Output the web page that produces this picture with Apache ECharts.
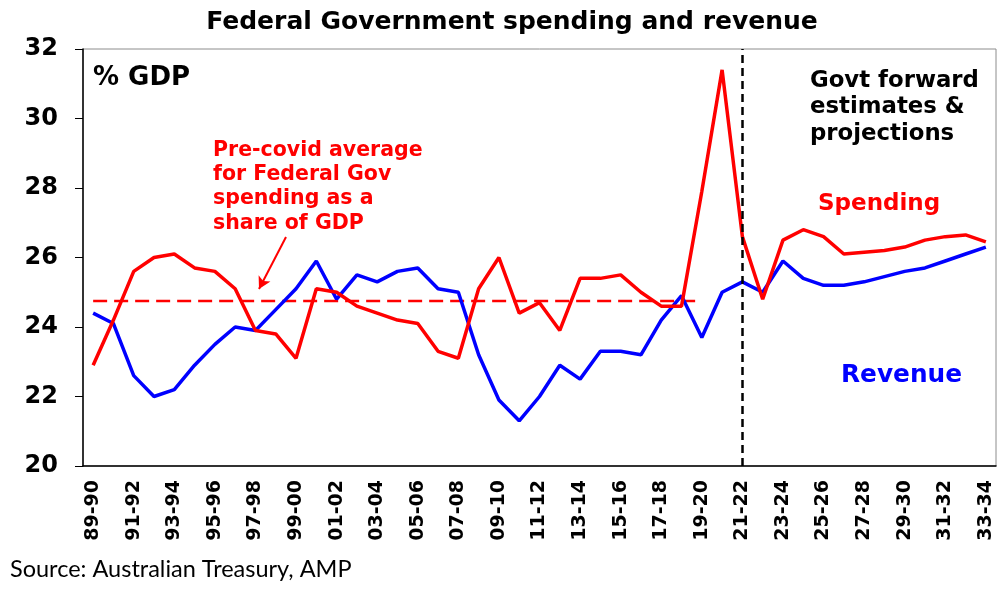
<!DOCTYPE html>
<html>
<head>
<meta charset="utf-8">
<script src="https://cdn.jsdelivr.net/npm/echarts@6/dist/echarts.min.js"></script>
<style>
html,body{margin:0;padding:0;background:#fff;}
#chart{width:1001px;height:593px;}
</style>
</head>
<body>
<div id="chart"></div>
<script>
var categories = ['89-90','90-91','91-92','92-93','93-94','94-95','95-96','96-97','97-98','98-99',
  '99-00','00-01','01-02','02-03','03-04','04-05','05-06','06-07','07-08','08-09',
  '09-10','10-11','11-12','12-13','13-14','14-15','15-16','16-17','17-18','18-19',
  '19-20','20-21','21-22','22-23','23-24','24-25','25-26','26-27','27-28','28-29',
  '29-30','30-31','31-32','32-33','33-34'];
var spending = [22.9,24.2,25.6,26.0,26.1,25.7,25.6,25.1,23.9,23.8,
  23.1,25.1,25.0,24.6,24.4,24.2,24.1,23.3,23.1,25.1,
  26.0,24.4,24.7,23.9,25.4,25.4,25.5,25.0,24.6,24.6,
  27.9,31.4,26.6,24.8,26.5,26.8,26.6,26.1,26.15,26.2,
  26.3,26.5,26.6,26.65,26.45];
var revenue = [24.4,24.1,22.6,22.0,22.2,22.9,23.5,24.0,23.9,24.5,
  25.1,25.9,24.8,25.5,25.3,25.6,25.7,25.1,25.0,23.2,
  21.9,21.3,22.0,22.9,22.5,23.3,23.3,23.2,24.2,24.9,
  23.7,25.0,25.3,25.0,25.9,25.4,25.2,25.2,25.3,25.45,
  25.6,25.7,25.9,26.1,26.3];
var preCovidAverage = 24.75;
var averageEndIndex = 30;
var forecastStart = '21-22';
var yTicks = [20,22,24,26,28,30,32];

var avgData = categories.map(function(c,i){ return i <= averageEndIndex ? preCovidAverage : null; });

var FONT = '"DejaVu Sans", Verdana, sans-serif';
var chart = echarts.init(document.getElementById('chart'));
chart.setOption({
  animation: false,
  backgroundColor: '#fff',
  title: {
    text: 'Federal Government spending and revenue',
    left: 507, top: 5, textAlign: 'center',
    textStyle: {fontFamily: FONT, fontWeight: 'bold', fontSize: 25, color: '#000'}
  },
  grid: {left: 83, right: 5, top: 49, bottom: 127, show: true, borderColor: '#8c8c8c', borderWidth: 1},
  xAxis: {
    type: 'category', data: categories, boundaryGap: true,
    axisLine: {lineStyle: {color: '#000', width: 1.5}},
    axisTick: {interval: 0, length: 6, lineStyle: {color: '#000', width: 1}},
    axisLabel: {interval: 1, rotate: 90, margin: 14, fontFamily: FONT, fontWeight: 'bold', fontSize: 19, color: '#000'}
  },
  yAxis: {
    type: 'value', min: yTicks[0], max: yTicks[yTicks.length-1], interval: 2,
    axisLine: {show: true, lineStyle: {color: '#000', width: 1.5}},
    axisTick: {show: true, length: 8, lineStyle: {color: '#000'}},
    splitLine: {show: false},
    axisLabel: {margin: 25, fontFamily: FONT, fontWeight: 'bold', fontSize: 24, color: '#000'}
  },
  series: [
    {
      name: 'Average', type: 'line', data: avgData, symbol: 'none', z: 1,
      lineStyle: {color: '#ff0000', width: 2.5, type: [14, 7]}
    },
    {
      name: 'Revenue', type: 'line', data: revenue, symbol: 'none', z: 2,
      lineStyle: {color: '#0000ff', width: 3.5}
    },
    {
      name: 'Spending', type: 'line', data: spending, symbol: 'none', z: 3,
      lineStyle: {color: '#ff0000', width: 3.5},
      markLine: {
        silent: true, symbol: ['none','none'], label: {show: false},
        lineStyle: {color: '#000', width: 2.5, type: [8, 5]},
        data: [{xAxis: forecastStart}]
      }
    },
    {
      name: 'arrow', type: 'line', data: [], markLine: {
        silent: true, symbol: ['none','arrow'], symbolSize: [10, 12], label: {show: false},
        lineStyle: {color: '#ff0000', width: 2, type: 'solid'},
        data: [[{x: 286, y: 237}, {x: 259, y: 289}]]
      }
    }
  ],
  graphic: [
    {type: 'text', left: 93, top: 65, style: {text: '% GDP', font: 'bold 26px ' + FONT, fill: '#000'}},
    {type: 'text', left: 213, top: 138, style: {text: 'Pre-covid average\nfor Federal Gov\nspending as a\nshare of GDP', font: 'bold 20.5px ' + FONT, lineHeight: 24.4, fill: '#ff0000'}},
    {type: 'text', left: 810, top: 68, style: {text: 'Govt forward\nestimates &\nprojections', font: 'bold 22.8px ' + FONT, lineHeight: 26.3, fill: '#000'}},
    {type: 'text', left: 818, top: 193, style: {text: 'Spending', font: 'bold 23px ' + FONT, fill: '#ff0000'}},
    {type: 'text', left: 841, top: 363, style: {text: 'Revenue', font: 'bold 24.8px ' + FONT, fill: '#0000ff'}},
    {type: 'text', left: 10, top: 557, style: {text: 'Source: Australian Treasury, AMP', font: '23.5px Lato, "Open Sans", sans-serif', fill: '#000'}}
  ]
});
</script>
</body>
</html>
